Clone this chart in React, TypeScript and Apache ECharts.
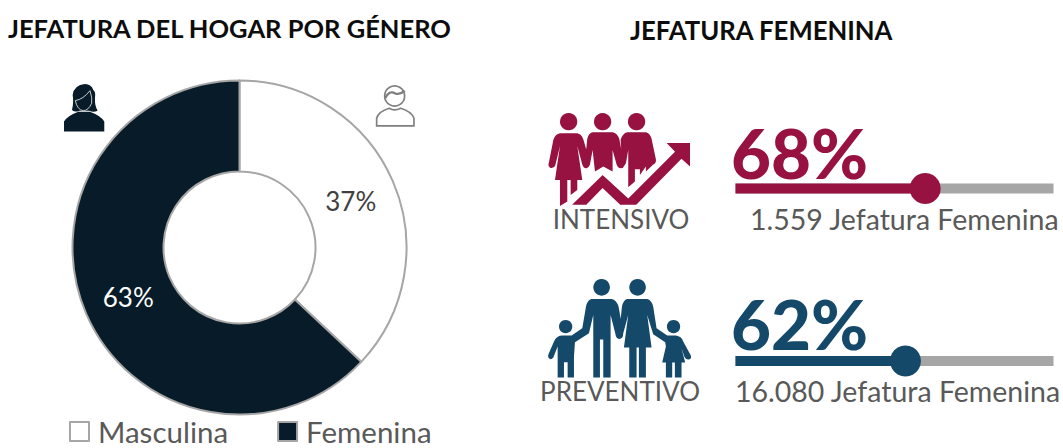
import React, { useEffect, useRef } from "react";
import * as echarts from "echarts";

const genderNames = ["Masculina", "Femenina"];
const genderValues = [37, 63];
const programNames = ["INTENSIVO", "PREVENTIVO"];
const programShares = [68, 62];
const programCaptions = ["1.559 Jefatura Femenina", "16.080 Jefatura Femenina"];
const titles = ["JEFATURA DEL HOGAR POR GÉNERO", "JEFATURA FEMENINA"];

const DARK = "#071c28";
const WINE = "#971141";
const BLUE = "#14496a";
const GRAY = "#a6a6a6";
const TEXT = "#595959";
const FONT = "Lato";

const womenD =
  "M60 100 L112 100 Q124 102 130 118 L148 180 Q152 200 140 205 Q130 206 127 194 L112 138 L127 240 L112 240 L112 270 L92 285 L92 240 L82 240 L82 305 L60 318 L60 240 L45 240 L60 138 L46 196 Q42 206 32 204 Q22 200 27 186 L40 120 Q46 102 60 100 Z " +
  "M158 97 L218 97 Q232 100 238 116 L252 190 Q254 204 244 205 Q234 206 230 194 L218 150 L218 215 L190 200 L165 215 L158 150 L150 194 Q146 206 136 204 L135 185 L142 116 Q146 100 158 97 Z " +
  "M262 97 L318 97 Q330 100 335 116 L348 178 Q350 190 340 194 L318 215 L318 150 L318 200 L300 225 L300 208 L285 208 L285 245 L265 262 L265 150 L258 190 L248 205 L242 120 Q248 100 262 97 Z";
const arrowD =
  "M90 317 L188 222 L265 292 L402 155 L375 127 L453 127 L453 205 L425 180 L290 317 L240 317 L188 268 L140 317 Z";
const familyD =
  "M155 102 L215 102 Q230 105 236 125 L250 205 Q250 222 238 222 Q228 222 226 205 L212 150 L212 338 L190 338 L190 224 L180 224 L180 338 L160 338 L160 150 L147 205 L105 232 L102 275 L102 338 L83 338 L83 292 L72 292 L72 338 L53 338 L53 245 L40 278 Q32 288 25 278 Q22 272 28 262 L42 230 Q50 212 68 212 L95 212 L127 190 L138 125 Q142 105 155 102 Z " +
  "M262 102 L322 102 Q335 105 340 125 L350 190 L382 212 L408 212 Q425 214 430 230 L453 272 Q456 284 445 284 Q438 284 434 276 L425 250 L436 293 L425 293 L425 338 L405 338 L405 293 L397 293 L397 338 L378 338 L378 293 L367 293 L378 245 L376 232 L340 208 L322 150 L335 248 L318 248 L318 338 L297 338 L297 248 L290 248 L290 338 L268 338 L268 248 L252 248 L265 150 L250 205 Q248 222 238 222 L238 205 L246 125 Q250 105 262 102 Z";
const womanBustD =
  "M42 185 L42 155 Q50 138 85 125 L120 125 Q155 138 163 155 L163 185 Z " +
  "M66 120 Q72 95 68 75 Q72 45 105 42 Q125 44 130 60 Q138 65 135 85 Q134 108 143 122 Q130 128 118 122 L88 122 Q76 128 66 120 Z";
const womanFaceD = "M76 92 Q100 88 120 62 Q128 85 125 100 Q115 122 100 122 Q82 120 76 92 Z";
const manBodyD = "M50 168 L50 145 Q55 125 88 115 Q103 125 122 115 Q155 125 162 145 L162 168 Z";
const manHairD = "M76 84 Q88 60 105 70 Q120 76 134 62";

echarts.graphic.registerShape("women", echarts.graphic.extendPath(womenD, {}));
echarts.graphic.registerShape("risingArrow", echarts.graphic.extendPath(arrowD, {}));
echarts.graphic.registerShape("family", echarts.graphic.extendPath(familyD, {}));
echarts.graphic.registerShape("womanBust", echarts.graphic.extendPath(womanBustD, {}));
echarts.graphic.registerShape("womanFace", echarts.graphic.extendPath(womanFaceD, {}));
echarts.graphic.registerShape("manBody", echarts.graphic.extendPath(manBodyD, {}));
echarts.graphic.registerShape("manHair", echarts.graphic.extendPath(manHairD, {}));

const Z = 1 / 3;
const circle = (ox: number, oy: number, cx: number, cy: number, r: number, fill: string, stroke?: string, lw?: number) => ({
  type: "circle",
  x: ox,
  y: oy,
  scaleX: Z,
  scaleY: Z,
  shape: { cx, cy, r },
  style: { fill, stroke, lineWidth: lw },
});
const shape = (type: string, ox: number, oy: number, style: object) => ({
  type,
  x: ox,
  y: oy,
  scaleX: Z,
  scaleY: Z,
  style,
});
const label = (text: string, x: number, y: number, size: number, fill: string, weight: any = "normal", align = "left") => ({
  type: "text",
  x,
  y,
  style: { text, fontFamily: FONT, fontSize: size, fontWeight: weight, fill, textAlign: align, textVerticalAlign: "middle" },
});

export default function App() {
  const ref = useRef<HTMLDivElement>(null);
  useEffect(() => {
    const chart = echarts.init(ref.current!, undefined, { renderer: "svg" });
    chart.setOption({
      animation: false,
      backgroundColor: "#fff",
      legend: {
        data: genderNames,
        left: 64,
        top: 416.5,
        padding: [0, 5, 0, 5],
        icon: "rect",
        itemWidth: 19,
        itemHeight: 19,
        itemGap: 49,
        textStyle: { fontFamily: FONT, fontSize: 29.5, lineHeight: 29, color: TEXT, padding: [0, 0, 0, 4] },
      },
      grid: [
        { left: 735.5, width: 318, top: 183.5, height: 10 },
        { left: 735.5, width: 318, top: 356, height: 10 },
      ],
      xAxis: [
        { gridIndex: 0, type: "value", min: 0, max: 114, show: false },
        { gridIndex: 1, type: "value", min: 0, max: 116, show: false },
      ],
      yAxis: [
        { gridIndex: 0, type: "category", data: [programNames[0]], show: false },
        { gridIndex: 1, type: "category", data: [programNames[1]], show: false },
      ],
      series: [
        {
          type: "pie",
          center: [239.5, 247.5],
          radius: [76, 167],
          startAngle: 90,
          clockwise: true,
          avoidLabelOverlap: false,
          silent: true,
          itemStyle: { borderColor: GRAY, borderWidth: 2 },
          label: { show: true, position: "inside", formatter: "{c}%", fontFamily: FONT, fontSize: 26 },
          labelLine: { show: false },
          labelLayout: (p: any) => (p.dataIndex === 0 ? { dx: -3, dy: 3 } : { dx: 3, dy: 0 }),
          data: [
            { name: genderNames[0], value: genderValues[0], itemStyle: { color: "#ffffff" }, label: { color: "#404040" } },
            { name: genderNames[1], value: genderValues[1], itemStyle: { color: DARK }, label: { color: "#ffffff" } },
          ],
        },
        ...[WINE, BLUE].flatMap((color, i) => [
          {
            type: "bar",
            xAxisIndex: i,
            yAxisIndex: i,
            barWidth: 10,
            showBackground: true,
            backgroundStyle: { color: GRAY, opacity: 1 },
            itemStyle: { color },
            data: [programShares[i]],
            silent: true,
          },
          {
            type: "scatter",
            xAxisIndex: i,
            yAxisIndex: i,
            symbol: "circle",
            symbolSize: 31,
            itemStyle: { color, opacity: 1 },
            data: [[programShares[i], programNames[i]]],
            silent: true,
            z: 5,
          },
        ]),
      ],
      graphic: [
        label(titles[0], 8, 28, 25.5, "#0d0d0d", "bold"),
        label(titles[1], 630, 30, 25.7, "#0d0d0d", "bold"),
        label(programShares[0] + "%", 731, 152, 69, WINE, 900),
        label(programShares[1] + "%", 731, 323, 69, BLUE, 900),
        label(programNames[0], 621, 219, 26, TEXT, "normal", "center"),
        label(programNames[1], 620, 391, 26, TEXT, "normal", "center"),
        label(programCaptions[0], 750, 219, 28.5, TEXT),
        label(programCaptions[1], 735, 391, 28.5, TEXT),
        // Intensivo icon
        circle(540, 100, 86, 65, 26, WINE),
        circle(540, 100, 188, 65, 26, WINE),
        circle(540, 100, 290, 65, 26, WINE),
        shape("women", 540, 100, { fill: WINE }),
        shape("risingArrow", 540, 100, { fill: WINE, stroke: "#fff", lineWidth: 5 }),
        // Preventivo icon
        circle(540, 265, 185, 67, 25, BLUE),
        circle(540, 265, 293, 67, 25, BLUE),
        circle(540, 265, 77, 185, 20, BLUE),
        circle(540, 265, 401, 185, 20, BLUE),
        shape("family", 540, 265, { fill: BLUE }),
        // Woman bust icon
        shape("womanBust", 50, 70, { fill: DARK }),
        shape("womanFace", 50, 70, { fill: DARK, stroke: "#c5cbcf", lineWidth: 3 }),
        // Man bust icon
        shape("manBody", 360, 70, { fill: "#fff", stroke: "#7f7f7f", lineWidth: 5 }),
        circle(360, 70, 104, 78, 30, "#fff", "#7f7f7f", 5),
        shape("manHair", 360, 70, { fill: "none", stroke: "#7f7f7f", lineWidth: 7 }),
      ],
    });
    return () => chart.dispose();
  }, []);
  return <div ref={ref} style={{ position: "absolute", left: 0, top: 0, width: 1063, height: 448 }} />;
}
